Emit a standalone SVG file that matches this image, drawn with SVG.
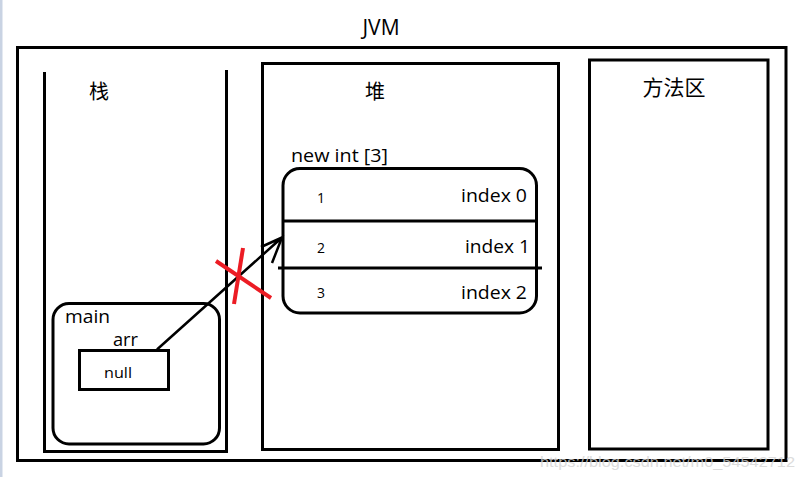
<svg xmlns="http://www.w3.org/2000/svg" width="797" height="477" viewBox="0 0 797 477">
<style>
.box{fill:none;stroke:#000;stroke-width:3}
.ln{stroke:#000;stroke-width:3;fill:none}
.t{font-family:"Open Sans","Liberation Sans",sans-serif;fill:#000}
.cjk{font-family:"Noto Sans CJK SC","Liberation Sans",sans-serif;fill:#000}
.x{stroke:#ec1c24;stroke-width:4;stroke-linecap:butt}
</style>
<rect x="0" y="0" width="797" height="477" fill="#fff"/>
<rect x="0" y="0" width="2.5" height="477" fill="#c9d3e3"/>
<g id="jvm">
<rect class="box" x="17.5" y="47.5" width="768.5" height="413"/>
<text class="t" x="381" y="35" font-size="21" text-anchor="middle">JVM</text>
</g>
<g id="stack">
<path class="ln" d="M44.5 72 V451.5 H226.5 V70"/>
<text class="cjk" x="99" y="99" font-size="20" text-anchor="middle">栈</text>
</g>
<g id="heap">
<rect class="box" x="262.5" y="63.5" width="296" height="386"/>
<text class="cjk" x="375" y="99" font-size="20" text-anchor="middle">堆</text>
</g>
<g id="method">
<rect class="box" x="589.5" y="60" width="178.5" height="389"/>
<text class="cjk" x="674" y="95" font-size="21" text-anchor="middle">方法区</text>
</g>
<g id="main">
<rect class="box" x="53" y="303.5" width="166.5" height="140.5" rx="16"/>
<text class="t" x="65" y="323" font-size="18" textLength="45" lengthAdjust="spacingAndGlyphs">main</text>
<text class="t" x="113" y="346" font-size="18" textLength="25" lengthAdjust="spacingAndGlyphs">arr</text>
</g>
<g id="null">
<rect class="box" x="79.5" y="350.5" width="89" height="39"/>
<text class="t" x="104" y="378" font-size="15" textLength="28" lengthAdjust="spacingAndGlyphs">null</text>
</g>
<g id="array">
<text class="t" x="291" y="162" font-size="17.5" textLength="97" lengthAdjust="spacingAndGlyphs">new int [3]</text>
<rect class="box" x="283" y="168.5" width="253.5" height="144.5" rx="17"/>
<line class="ln" x1="283" y1="221" x2="536.5" y2="221"/>
<line class="ln" x1="278" y1="268" x2="542" y2="268"/>
<text class="t" x="317" y="203" font-size="14" fill="#101838">1</text>
<text class="t" x="317" y="253" font-size="14" fill="#101838">2</text>
<text class="t" x="317" y="298" font-size="14" fill="#101838">3</text>
<text class="t" x="461" y="202" font-size="19" textLength="66" lengthAdjust="spacingAndGlyphs">index 0</text>
<text class="t" x="465" y="253" font-size="19" textLength="65" lengthAdjust="spacingAndGlyphs">index 1</text>
<text class="t" x="461" y="299" font-size="19" textLength="66" lengthAdjust="spacingAndGlyphs">index 2</text>
</g>
<g id="connectors">
<path d="M157 349.5 L282 237.5 M261 247 L282 237.5 L272 263" fill="none" stroke="#000" stroke-width="2.5" stroke-linejoin="miter"/>
<line class="x" x1="216" y1="261" x2="271" y2="298"/>
<line class="x" x1="243" y1="248" x2="234" y2="304"/>
</g>
<text x="540" y="467" font-family="Liberation Sans, sans-serif" font-size="15" fill="#d4d4d4" opacity="0.8" textLength="255" lengthAdjust="spacingAndGlyphs">https://blog.csdn.net/m0_54542712</text>
</svg>
